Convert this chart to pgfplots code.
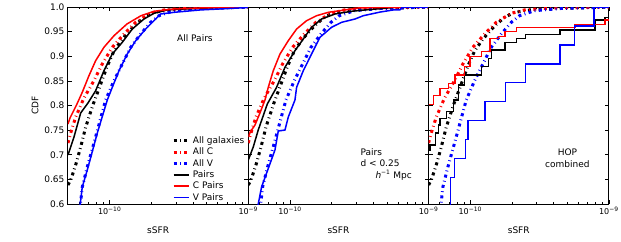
\documentclass[border=0pt]{standalone}
\usepackage{fontspec}
\setmainfont{DejaVu Sans}
\usepackage{pgfplots}
\pgfplotsset{compat=1.18}
\tikzset{
  dd/.style={line width=3pt, dash pattern=on 3pt off 3.4pt on 0.8pt off 3.4pt},
  sl/.style={line width=1.5pt},
}
\begin{document}
\begin{tikzpicture}
\path[use as bounding box] (-68pt,-37pt) rectangle (553pt,204pt);
% ---------------- Panel 1 ----------------
\begin{axis}[xmode=log, scale only axis, width=180.3pt, height=197pt,
    xmin=5e-11, xmax=1e-9, ymin=0.6, ymax=1.0,
    xtick={1e-10,1e-9},
    xticklabels={10\textsuperscript{−10},10\textsuperscript{−9}},
    minor xtick={6e-11,7e-11,8e-11,9e-11,2e-10,3e-10,4e-10,5e-10,6e-10,7e-10,8e-10,9e-10},
    ytick={0.6,0.65,0.7,0.75,0.8,0.85,0.9,0.95,1.0},
    tick align=inside, major tick length=4pt, minor tick length=2pt,
    axis line style={line width=1pt},
    every tick/.style={black, line width=0.6pt},
    x tick label style={font=\fontsize{8}{9}\selectfont},
    y tick label style={font=\fontsize{9}{10}\selectfont},
    xlabel={sSFR},
    xlabel style={font=\fontsize{9}{10}\selectfont, at={(axis description cs:0.5,-0.132)}, anchor=center},
  at={(0pt,0pt)}, anchor=south west,
  yticklabels={0.6,0.65,0.7,0.75,0.8,0.85,0.9,0.95,1.0},
  ylabel={CDF},
  ylabel style={font=\fontsize{9}{10}\selectfont, at={(axis description cs:-0.183,0.5)}, anchor=center},
  legend image code/.code={\draw (0pt,0pt) -- (15.5pt,0pt);},
  legend style={at={(axis description cs:0.577,0.35)}, anchor=north west, draw=none, fill=none,
    font=\fontsize{9}{10}\selectfont, row sep=0.6pt, inner sep=0pt,
    nodes={inner xsep=2.2pt, inner ysep=1pt, text height=7pt, text depth=1.8pt}},
  legend cell align=left]
% All galaxies
\addplot[dd, black] coordinates {(5e-11,0.6386) (5.23e-11,0.6487) (5.68e-11,0.6792) (6.175e-11,0.7157) (6.71e-11,0.7563) (7.61e-11,0.803) (8.61e-11,0.8437) (9.61e-11,0.8802) (1.074e-10,0.9107) (1.233e-10,0.935) (1.497e-10,0.9614) (1.767e-10,0.9791) (2.087e-10,0.9892) (2.722e-10,0.994) (4.481e-10,0.997) (1e-9,1.0)};
\addlegendentry{All galaxies}
% All C
\addplot[dd, red] coordinates {(5e-11,0.7238) (5.23e-11,0.7442) (5.68e-11,0.7766) (6.52e-11,0.8152) (7.70e-11,0.8504) (8.84e-11,0.8843) (1.044e-10,0.9182) (1.268e-10,0.9452) (1.54e-10,0.9689) (1.976e-10,0.9872) (2.464e-10,0.994) (3.795e-10,0.998) (1e-9,1.0)};
\addlegendentry{All C}
% All V
\addplot[dd, blue] coordinates {(6.1e-11,0.59) (6.34e-11,0.6345) (6.89e-11,0.6751) (7.70e-11,0.7238) (9.35e-11,0.8112) (1.074e-10,0.8504) (1.233e-10,0.8843) (1.417e-10,0.9182) (1.673e-10,0.9452) (1.976e-10,0.9689) (2.268e-10,0.9823) (2.909e-10,0.9925) (4.481e-10,0.997) (1e-9,1.0)};
\addlegendentry{All V}
% Pairs
\addplot[sl, black] coordinates {(5e-11,0.6995) (5.525e-11,0.736) (6.175e-11,0.7848) (6.97e-11,0.8051) (7.92e-11,0.83) (9.09e-11,0.8707) (1.044e-10,0.9046) (1.233e-10,0.9283) (1.455e-10,0.9553) (1.767e-10,0.9756) (2.087e-10,0.9872) (2.59e-10,0.994) (3.435e-10,0.996) (6.247e-10,0.999) (1e-9,1.0)};
\addlegendentry{Pairs}
% C Pairs
\addplot[sl, red] coordinates {(5e-11,0.7624) (5.17e-11,0.7746) (5.805e-11,0.803) (6.34e-11,0.8268) (7.085e-11,0.8605) (7.92e-11,0.891) (9.09e-11,0.9182) (1.074e-10,0.9417) (1.332e-10,0.9655) (1.682e-10,0.9823) (2.087e-10,0.9913) (2.909e-10,0.996) (4.481e-10,0.998) (1e-9,1.0)};
\addlegendentry{C Pairs}
% V Pairs
\addplot[sl, blue] coordinates {(6.07e-11,0.59) (6.34e-11,0.6345) (6.89e-11,0.669) (8.14e-11,0.7442) (9.61e-11,0.8112) (1.044e-10,0.8369) (1.167e-10,0.8707) (1.339e-10,0.9046) (1.54e-10,0.9316) (1.818e-10,0.9553) (2.087e-10,0.9722) (2.332e-10,0.9858) (2.909e-10,0.9892) (4.481e-10,0.994) (7.375e-10,0.997) (1e-9,0.999)};
\addlegendentry{V Pairs}
\node[font=\fontsize{9}{10}\selectfont] at (axis description cs:0.704,0.843) {All Pairs};
\end{axis}
% ---------------- Panel 2 ----------------
\begin{axis}[xmode=log, scale only axis, width=180.3pt, height=197pt,
    xmin=5e-11, xmax=1e-9, ymin=0.6, ymax=1.0,
    xtick={1e-10,1e-9},
    xticklabels={10\textsuperscript{−10},10\textsuperscript{−9}},
    minor xtick={6e-11,7e-11,8e-11,9e-11,2e-10,3e-10,4e-10,5e-10,6e-10,7e-10,8e-10,9e-10},
    ytick={0.6,0.65,0.7,0.75,0.8,0.85,0.9,0.95,1.0},
    tick align=inside, major tick length=4pt, minor tick length=2pt,
    axis line style={line width=1pt},
    every tick/.style={black, line width=0.6pt},
    x tick label style={font=\fontsize{8}{9}\selectfont},
    xlabel={sSFR},
    xlabel style={font=\fontsize{9}{10}\selectfont, at={(axis description cs:0.5,-0.132)}, anchor=center},
  at={(180.3pt,0pt)}, anchor=south west, yticklabels={}]
\addplot[dd, black] coordinates {(5e-11,0.6386) (5.23e-11,0.6487) (5.68e-11,0.6792) (6.175e-11,0.7157) (6.71e-11,0.7563) (7.61e-11,0.803) (8.61e-11,0.8437) (9.61e-11,0.8802) (1.074e-10,0.9107) (1.233e-10,0.935) (1.497e-10,0.9614) (1.767e-10,0.9791) (2.087e-10,0.9892) (2.722e-10,0.994) (4.481e-10,0.997) (1e-9,1.0)};
\addplot[dd, red] coordinates {(5e-11,0.7238) (5.23e-11,0.7442) (5.68e-11,0.7766) (6.52e-11,0.8152) (7.70e-11,0.8504) (8.84e-11,0.8843) (1.044e-10,0.9182) (1.268e-10,0.9452) (1.54e-10,0.9689) (1.976e-10,0.9872) (2.464e-10,0.994) (3.795e-10,0.998) (1e-9,1.0)};
\addplot[dd, blue] coordinates {(6.1e-11,0.59) (6.34e-11,0.6345) (6.89e-11,0.6751) (7.70e-11,0.7238) (9.35e-11,0.8112) (1.074e-10,0.8504) (1.233e-10,0.8843) (1.417e-10,0.9182) (1.673e-10,0.9452) (1.976e-10,0.9689) (2.268e-10,0.9823) (2.909e-10,0.9925) (4.481e-10,0.997) (1e-9,1.0)};
\addplot[sl, black] coordinates {(5e-11,0.6893) (5.43e-11,0.7157) (5.9e-11,0.7502) (6.86e-11,0.803) (8.0e-11,0.8369) (9.2e-11,0.8776) (1.086e-10,0.9113) (1.247e-10,0.935) (1.431e-10,0.9588) (1.69e-10,0.9756) (2.111e-10,0.9858) (2.782e-10,0.9913) (3.475e-10,0.994) (5.562e-10,0.999) (1e-9,1.0)};
\addplot[sl, red] coordinates {(5e-11,0.736) (5.17e-11,0.7462) (5.59e-11,0.7604) (6.07e-11,0.7848) (6.6e-11,0.8112) (6.97e-11,0.8369) (7.575e-11,0.8707) (8.47e-11,0.9046) (9.72e-11,0.9316) (1.116e-10,0.9553) (1.317e-10,0.9722) (1.555e-10,0.9823) (1.889e-10,0.9892) (2.493e-10,0.994) (3.109e-10,0.998) (4.481e-10,0.999) (1e-9,1.0)};
\addplot[sl, blue] coordinates {(5.85e-11,0.59) (5.9e-11,0.6) (6.237e-11,0.6345) (6.78e-11,0.6629) (7.79e-11,0.7096) (8.23e-11,0.7482) (9.2e-11,0.7502) (9.72e-11,0.7766) (1.086e-10,0.8112) (1.116e-10,0.8369) (1.247e-10,0.8707) (1.431e-10,0.9046) (1.645e-10,0.9385) (1.995e-10,0.9588) (2.356e-10,0.9689) (2.943e-10,0.9756) (3.378e-10,0.9823) (4.481e-10,0.9898) (5.562e-10,0.994) (6.2e-10,0.994) (6.457e-10,1.0) (1e-9,1.0)};
\node[font=\fontsize{9}{10}\selectfont, anchor=west] at (axis description cs:0.603,0.264) {Pairs};
\node[font=\fontsize{9}{10}\selectfont, anchor=west] at (axis description cs:0.603,0.206) {d < 0.25};
\node[font=\fontsize{9}{10}\selectfont, anchor=west] at (axis description cs:0.686,0.147) {\textit{h}\textsuperscript{−1} Mpc};
\end{axis}
% ---------------- Panel 3 ----------------
\begin{axis}[xmode=log, scale only axis, width=180.3pt, height=197pt,
    xmin=5e-11, xmax=1e-9, ymin=0.6, ymax=1.0,
    xtick={1e-10,1e-9},
    xticklabels={10\textsuperscript{−10},10\textsuperscript{−9}},
    minor xtick={6e-11,7e-11,8e-11,9e-11,2e-10,3e-10,4e-10,5e-10,6e-10,7e-10,8e-10,9e-10},
    ytick={0.6,0.65,0.7,0.75,0.8,0.85,0.9,0.95,1.0},
    tick align=inside, major tick length=4pt, minor tick length=2pt,
    axis line style={line width=1pt},
    every tick/.style={black, line width=0.6pt},
    x tick label style={font=\fontsize{8}{9}\selectfont},
    xlabel={sSFR},
    xlabel style={font=\fontsize{9}{10}\selectfont, at={(axis description cs:0.5,-0.132)}, anchor=center},
  at={(360.6pt,0pt)}, anchor=south west, yticklabels={}]
\addplot[dd, black] coordinates {(5e-11,0.6386) (5.23e-11,0.6487) (5.68e-11,0.6792) (6.175e-11,0.7157) (6.71e-11,0.7563) (7.61e-11,0.803) (8.61e-11,0.8437) (9.61e-11,0.8802) (1.074e-10,0.9107) (1.233e-10,0.935) (1.497e-10,0.9614) (1.767e-10,0.9791) (2.087e-10,0.9892) (2.722e-10,0.994) (4.481e-10,0.997) (1e-9,1.0)};
\addplot[dd, red] coordinates {(5e-11,0.7238) (5.23e-11,0.7442) (5.68e-11,0.7766) (6.52e-11,0.8152) (7.70e-11,0.8504) (8.84e-11,0.8843) (1.044e-10,0.9182) (1.268e-10,0.9452) (1.54e-10,0.9689) (1.976e-10,0.9872) (2.464e-10,0.994) (3.795e-10,0.998) (1e-9,1.0)};
\addplot[dd, blue] coordinates {(6.1e-11,0.59) (6.34e-11,0.6345) (6.89e-11,0.6751) (7.70e-11,0.7238) (9.35e-11,0.8112) (1.074e-10,0.8504) (1.233e-10,0.8843) (1.417e-10,0.9182) (1.673e-10,0.9452) (1.976e-10,0.9689) (2.268e-10,0.9823) (2.909e-10,0.9925) (4.481e-10,0.997) (1e-9,1.0)};
\addplot[sl, black, const plot] coordinates {(5e-11,0.7096) (5.14e-11,0.7198) (5.59e-11,0.7442) (5.875e-11,0.7604) (6.034e-11,0.774) (6.745e-11,0.7874) (7.54e-11,0.8112) (8.19e-11,0.8416) (9.05e-11,0.8619) (1.206e-10,0.8788) (1.348e-10,0.8958) (1.424e-10,0.9127) (1.776e-10,0.9275) (2.158e-10,0.9364) (2.506e-10,0.9446) (4.43e-10,0.9533) (7.94e-10,0.9736) (9.37e-10,0.9783) (1e-9,0.9783)};
\addplot[sl, red, const plot] coordinates {(5e-11,0.8024) (5.405e-11,0.8199) (6.034e-11,0.835) (6.937e-11,0.8451) (7.74e-11,0.8619) (9.05e-11,0.8788) (9.93e-11,0.8991) (1.206e-10,0.9092) (1.385e-10,0.9364) (1.592e-10,0.9397) (1.776e-10,0.9498) (2.158e-10,0.958) (5.69e-10,0.9649) (9.37e-10,0.9736) (1e-9,0.9736)};
\addplot[sl, blue, const plot] coordinates {(7.17e-11,0.5) (7.17e-11,0.6538) (7.70e-11,0.6923) (9.2e-11,0.7308) (9.61e-11,0.7692) (1.276e-10,0.8077) (1.797e-10,0.8462) (2.506e-10,0.8846) (4.43e-10,0.9231) (5.625e-10,0.9615) (7.805e-10,1.0) (1e-9,1.0)};
\node[font=\fontsize{9}{12}\selectfont, align=center] at (axis description cs:0.77,0.234) {HOP\\combined};
\end{axis}
\end{tikzpicture}
\end{document}
